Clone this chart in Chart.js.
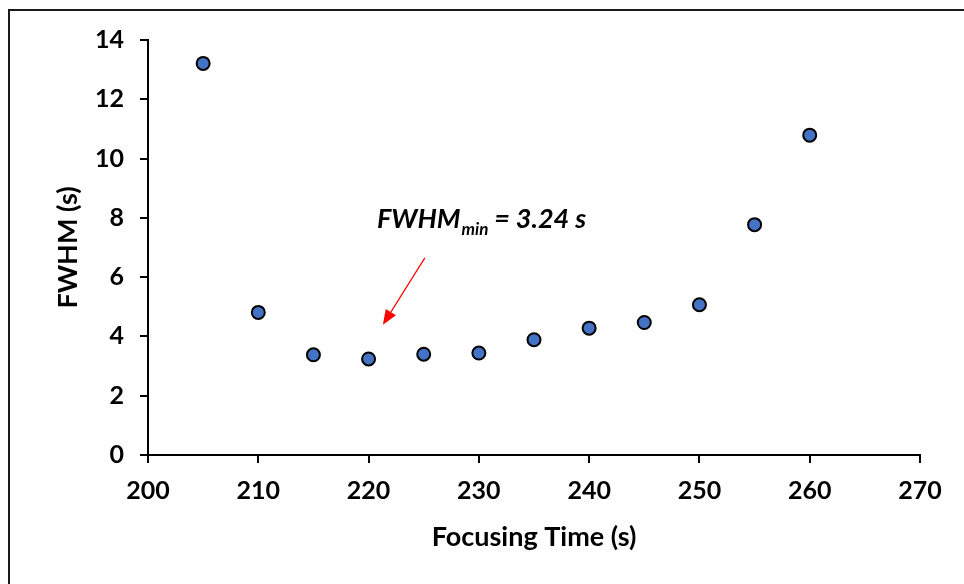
<!DOCTYPE html>
<html>
<head>
<meta charset="utf-8">
<script src="https://cdn.jsdelivr.net/npm/chart.js@4.4.1/dist/chart.umd.min.js"></script>
<style>
  html, body { margin: 0; padding: 0; background: #fff; }
  #wrap { position: relative; width: 964px; height: 584px; overflow: hidden; }
  #frame { position: absolute; left: 8px; top: 9px; width: 1000px; height: 1000px;
           border: 2px solid #1a1a1a; box-sizing: border-box; }
  canvas { position: absolute; left: 0; top: 0; }
</style>
</head>
<body>
<div id="wrap">
  <div id="frame"></div>
  <canvas id="c" width="964" height="584"></canvas>
</div>
<script>
const focusingTime = [205, 210, 215, 220, 225, 230, 235, 240, 245, 250, 255, 260];
const fwhm = [13.21, 4.81, 3.38, 3.24, 3.40, 3.44, 3.89, 4.28, 4.47, 5.07, 7.77, 10.79];
const xTicks = [200, 210, 220, 230, 240, 250, 260, 270];
const yTicks = [0, 2, 4, 6, 8, 10, 12, 14];
const xTitle = 'Focusing Time (s)';
const yTitle = 'FWHM (s)';
const annotationMain = 'FWHM';
const annotationSub = 'min';
const annotationRest = ' = 3.24 s';
const annotationTextAt = [220.76, 7.67];
const arrowFrom = [225.1, 6.65];
const arrowTo = [221.3, 4.39];

const FONT = 'Lato, "Open Sans", sans-serif';

const annotationPlugin = {
  id: 'fwhmAnnotation',
  afterDatasetsDraw(chart) {
    const ctx = chart.ctx;
    const xs = chart.scales.x, ys = chart.scales.y;
    ctx.save();
    const x1 = xs.getPixelForValue(arrowFrom[0]), y1 = ys.getPixelForValue(arrowFrom[1]);
    const x2 = xs.getPixelForValue(arrowTo[0]), y2 = ys.getPixelForValue(arrowTo[1]);
    const ang = Math.atan2(y2 - y1, x2 - x1);
    const headLen = 15, headW = 6;
    const bx = x2 - headLen * Math.cos(ang), by = y2 - headLen * Math.sin(ang);
    ctx.strokeStyle = '#ff0000';
    ctx.lineWidth = 1.2;
    ctx.beginPath();
    ctx.moveTo(x1, y1);
    ctx.lineTo(bx, by);
    ctx.stroke();
    ctx.fillStyle = '#ff0000';
    ctx.beginPath();
    ctx.moveTo(x2, y2);
    ctx.lineTo(bx + headW * Math.sin(ang), by - headW * Math.cos(ang));
    ctx.lineTo(bx - headW * Math.sin(ang), by + headW * Math.cos(ang));
    ctx.closePath();
    ctx.fill();
    let tx = xs.getPixelForValue(annotationTextAt[0]);
    const ty = ys.getPixelForValue(annotationTextAt[1]);
    ctx.fillStyle = '#000';
    ctx.textBaseline = 'alphabetic';
    ctx.textAlign = 'left';
    ctx.font = 'italic bold 27px ' + FONT;
    ctx.fillText(annotationMain, tx, ty);
    tx += ctx.measureText(annotationMain).width + 1;
    ctx.font = 'italic bold 17px ' + FONT;
    ctx.fillText(annotationSub, tx, ty + 7);
    tx += ctx.measureText(annotationSub).width;
    ctx.font = 'italic bold 27px ' + FONT;
    ctx.fillText(annotationRest, tx, ty);
    ctx.restore();
  }
};

new Chart(document.getElementById('c'), {
  type: 'scatter',
  data: {
    datasets: [{
      data: focusingTime.map((x, i) => ({ x: x, y: fwhm[i] })),
      backgroundColor: '#4472C4',
      borderColor: '#000000',
      borderWidth: 2,
      pointRadius: 6.5,
      pointHoverRadius: 6.5
    }]
  },
  options: {
    responsive: false,
    animation: false,
    layout: { padding: { left: 0, top: 40, right: 44, bottom: 0 } },
    plugins: { legend: { display: false }, tooltip: { enabled: false } },
    scales: {
      x: {
        type: 'linear', min: 200, max: 270,
        afterBuildTicks(s) { s.ticks = xTicks.map(v => ({ value: v })); },
        afterFit(s) { s.height = 129; },
        border: { display: true, color: '#000', width: 2 },
        grid: { display: true, drawOnChartArea: false, drawTicks: true, tickLength: 8, color: '#000', lineWidth: 2 },
        ticks: { color: '#000', padding: 13, font: { family: FONT, size: 25, weight: 'bold' } },
        title: { display: true, text: xTitle, color: '#000', padding: { top: 0, bottom: 31 }, font: { family: FONT, size: 27, weight: 'bold' } }
      },
      y: {
        type: 'linear', min: 0, max: 14,
        afterBuildTicks(s) { s.ticks = yTicks.map(v => ({ value: v })); },
        afterFit(s) { s.width = 148; },
        border: { display: true, color: '#000', width: 2 },
        grid: { display: true, drawOnChartArea: false, drawTicks: true, tickLength: 8, color: '#000', lineWidth: 2 },
        ticks: { color: '#000', padding: 16, font: { family: FONT, size: 25, weight: 'bold' } },
        title: { display: true, text: yTitle, color: '#000', padding: { top: 52, bottom: 0 }, font: { family: FONT, size: 27, weight: 'bold' } }
      }
    }
  },
  plugins: [annotationPlugin]
});
</script>
</body>
</html>
